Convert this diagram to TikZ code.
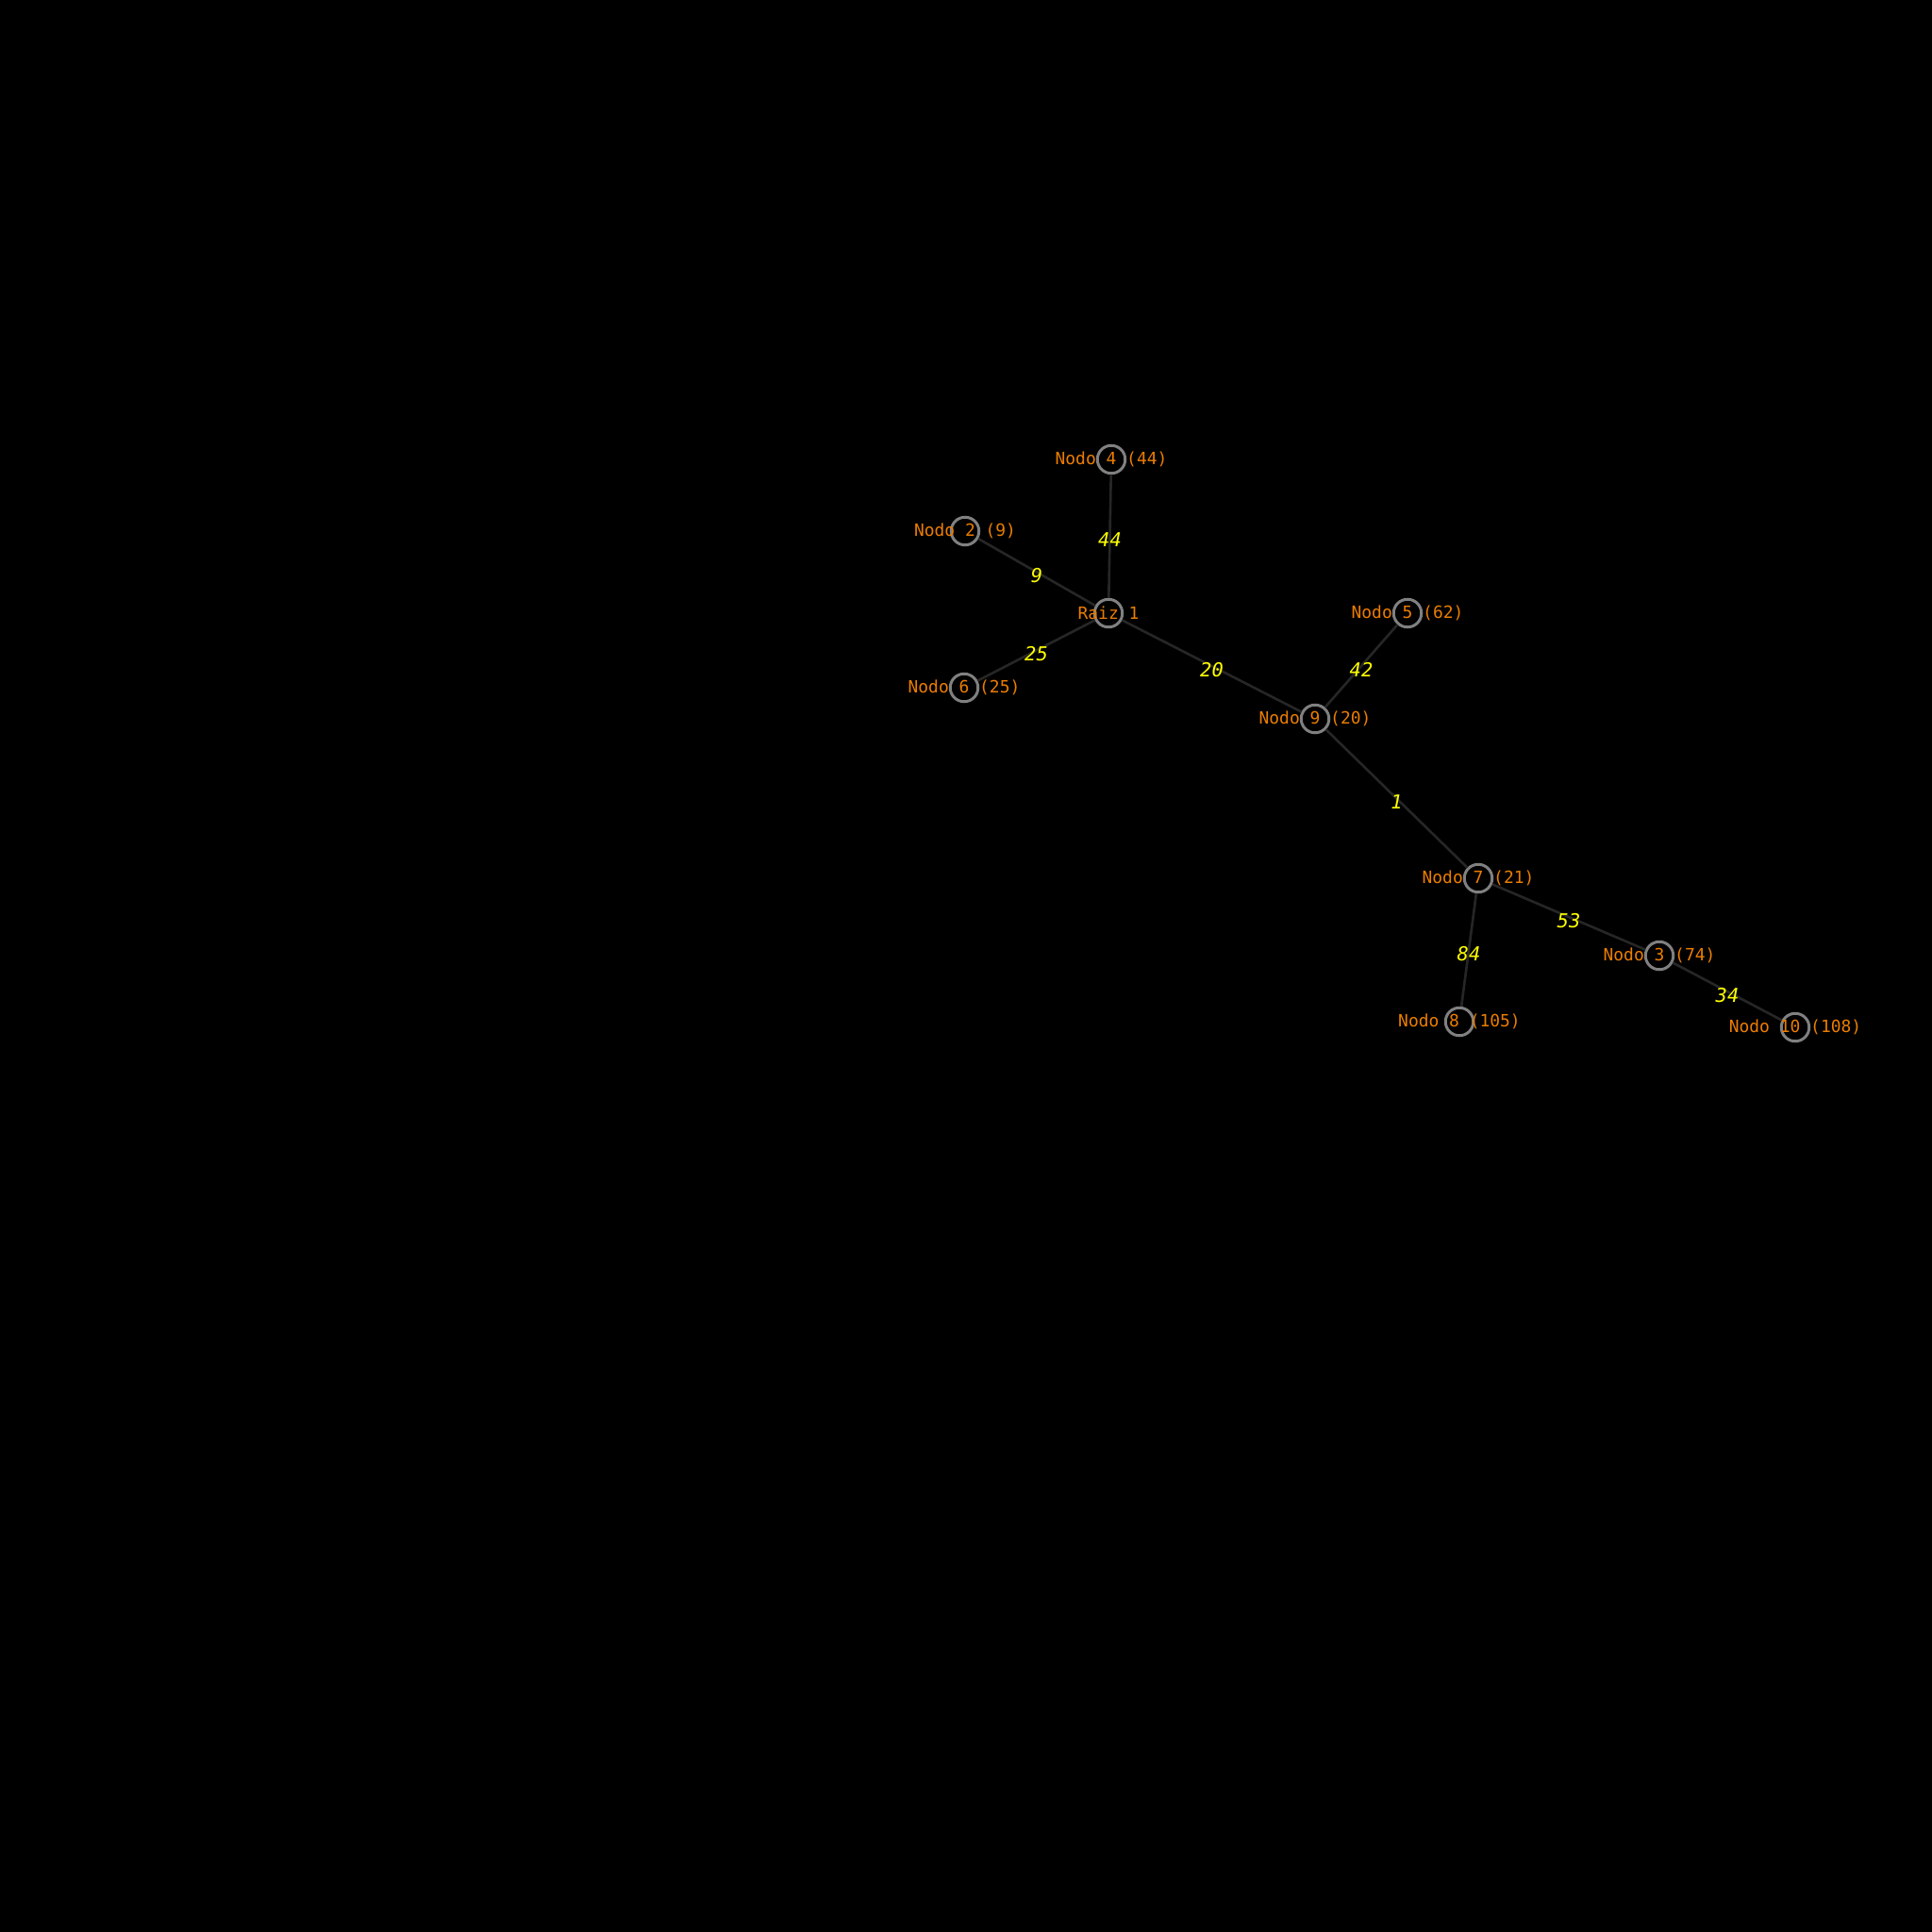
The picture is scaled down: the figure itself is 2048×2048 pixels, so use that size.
\documentclass[tikz,border=0pt]{standalone}
\usepackage{fontspec}
\setmonofont{DejaVu Sans Mono}
\usetikzlibrary{positioning}
\definecolor{TreeOrange}{RGB}{235,125,0}
\definecolor{TreeRing}{RGB}{128,128,128}
\definecolor{TreeEdge}{RGB}{38,38,38}
\definecolor{TreeWeight}{RGB}{255,255,0}

\begin{document}
\begin{tikzpicture}[
        x=0.01cm, y=-0.01cm,
        ring/.style={
            circle,
            draw=TreeRing,
            fill=black,
            line width=0.85pt,
            minimum size=0.295cm,
            inner sep=0pt
        },
        tag/.style={
            font=\ttfamily\fontsize{5.1}{6}\selectfont,
            text=TreeOrange,
            inner sep=0pt
        },
        edge/.style={
            draw=TreeEdge,
            line width=0.75pt
        },
        weight/.style={
            font=\ttfamily\itshape\fontsize{5.8}{7}\selectfont,
            text=TreeWeight,
            inner sep=0pt,
            yshift=-1.1pt,
            midway
        }
    ]

    % Background
    \fill[black] (0,0) rectangle (2048,2048);

    % Tree nodes
    \node[ring] (r) at (1175,650) {};
    \node[ring] (n4) at (1178,487) {};
    \node[ring] (n2) at (1023,563) {};
    \node[ring] (n6) at (1022,729) {};
    \node[ring] (n9) at (1394,762) {};
    \node[ring] (n5) at (1492,650) {};
    \node[ring] (n7) at (1567,931) {};
    \node[ring] (n3) at (1759,1013) {};
    \node[ring] (n8) at (1547,1083) {};
    \node[ring] (n10) at (1903,1089) {};

    % Weighted edges
    \draw[edge] (r) -- node[weight] (w44) {44} (n4);
    \draw[edge] (r) -- node[weight] (w9) {9} (n2);
    \draw[edge] (r) -- node[weight] (w25) {25} (n6);
    \draw[edge] (r) -- node[weight] (w20) {20} (n9);
    \draw[edge] (n9) -- node[weight] (w42) {42} (n5);
    \draw[edge] (n9) -- node[weight] (w1) {1} (n7);
    \draw[edge] (n7) -- node[weight] (w53) {53} (n3);
    \draw[edge] (n7) -- node[weight] (w84) {84} (n8);
    \draw[edge] (n3) -- node[weight] (w34) {34} (n10);

    % Labels
    \node[tag] (tr) at (r) {Raiz 1};
    \node[tag] (t4) at (n4) {Nodo 4 (44)};
    \node[tag] (t2) at (n2) {Nodo 2 (9)};
    \node[tag] (t6) at (n6) {Nodo 6 (25)};
    \node[tag] (t9) at (n9) {Nodo 9 (20)};
    \node[tag] (t5) at (n5) {Nodo 5 (62)};
    \node[tag] (t7) at (n7) {Nodo 7 (21)};
    \node[tag] (t3) at (n3) {Nodo 3 (74)};
    \node[tag] (t8) at (n8) {Nodo 8 (105)};
    \node[tag] (t10) at (n10) {Nodo 10 (108)};

\end{tikzpicture}
\end{document}
